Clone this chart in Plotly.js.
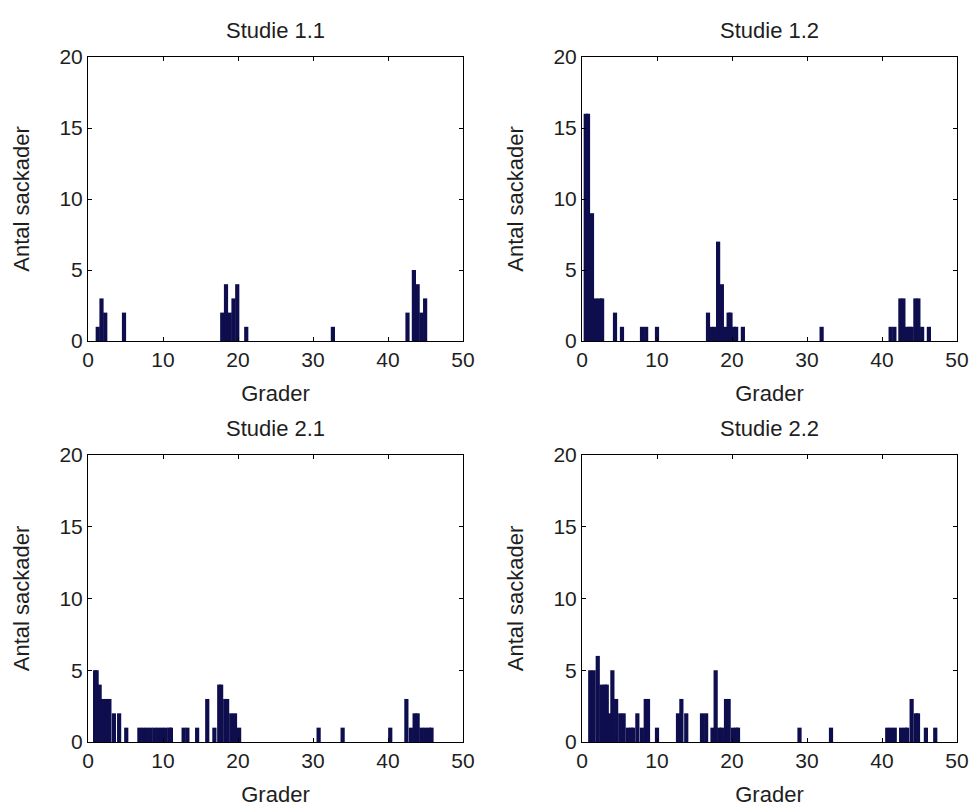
<!DOCTYPE html>
<html>
<head>
<meta charset="utf-8">
<script src="https://cdn.plot.ly/plotly-3.0.1.min.js"></script>
<style>
  html, body { margin: 0; padding: 0; background: #ffffff; }
  #chart { width: 976px; height: 807px; }
</style>
</head>
<body>
<div id="chart"></div>
<script>
// ---- Data (bin centre in degrees, number of saccades) ----
const titles = ["Studie 1.1", "Studie 1.2", "Studie 2.1", "Studie 2.2"];
const xAxisLabel = "Grader";
const yAxisLabel = "Antal sackader";
const xTicks = [0, 10, 20, 30, 40, 50];
const yTicks = [0, 5, 10, 15, 20];

// Studie 1.1
const deg11 = [1.3, 1.8, 2.3, 4.8, 17.9, 18.4, 18.9, 19.4, 19.9, 21.1, 32.65, 42.6, 43.45, 43.95, 44.45, 44.95];
const cnt11 = [1, 3, 2, 2, 2, 4, 2, 3, 4, 1, 1, 2, 5, 4, 2, 3];

// Studie 1.2
const deg12 = [0.5, 0.8, 1.33, 1.85, 2.35, 2.68, 4.4, 5.33, 8.0, 8.55, 10.0, 16.8, 17.25, 17.65, 18.15, 18.65, 19.1,
               19.55, 19.8, 20.25, 20.55, 21.45, 31.95, 41.15, 41.65, 42.45, 42.85, 43.35, 43.7, 43.95, 44.45, 44.85, 45.35, 46.25];
const cnt12 = [16, 16, 9, 3, 3, 3, 2, 1, 1, 1, 1, 2, 1, 1, 7, 4, 1,
               2, 2, 1, 1, 1, 1, 1, 1, 3, 3, 1, 1, 1, 3, 3, 1, 1];

// Studie 2.1
const deg21 = [0.95, 1.15, 1.55, 2.0, 2.45, 2.85, 3.45, 4.15, 5.1, 6.85, 7.35, 7.85, 8.35, 8.85, 9.35, 9.85, 10.35, 10.85, 11.05,
               12.75, 13.25, 14.55, 15.9, 16.85, 17.5, 17.75, 18.3, 18.55, 19.1, 19.6, 20.15, 30.75, 33.95, 40.3, 42.45, 43.05,
               43.55, 43.95, 44.45, 44.95, 45.45, 45.8];
const cnt21 = [5, 5, 4, 3, 3, 3, 2, 2, 1, 1, 1, 1, 1, 1, 1, 1, 1, 1, 1,
               1, 1, 1, 3, 1, 4, 4, 3, 3, 2, 2, 1, 1, 1, 1, 3, 1,
               2, 2, 1, 1, 1, 1];

// Studie 2.2
const deg22 = [1.1, 1.55, 2.1, 2.6, 3.05, 3.3, 3.7, 4.05, 4.55, 5.1, 5.55, 6.1, 6.55, 6.8, 7.38, 7.98, 8.5, 8.8, 10.0,
               12.8, 13.25, 13.9, 16.0, 16.55, 17.4, 17.82, 18.3, 18.65, 19.2, 19.55, 20.1, 20.55, 20.8, 29.0, 33.2,
               40.7, 41.2, 41.7, 42.55, 43.05, 43.35, 43.95, 44.5, 44.8, 45.85, 47.1];
const cnt22 = [5, 5, 6, 4, 4, 4, 2, 5, 3, 2, 2, 1, 1, 1, 2, 1, 3, 3, 1,
               2, 3, 2, 2, 2, 1, 5, 1, 1, 3, 3, 1, 1, 1, 1, 1,
               1, 1, 1, 1, 1, 1, 3, 2, 2, 1, 1];

// ---- Styling ----
const BAR_FILL = "#0e0e4e";
const BIN_WIDTH = 0.56;
const FONT = "Liberation Sans, Arial, sans-serif";
const TXT = "#1e1e1e";

const series = [[deg11, cnt11], [deg12, cnt12], [deg21, cnt21], [deg22, cnt22]];
const axSuffix = ["", "2", "3", "4"];

const traces = series.map((s, i) => ({
  type: "bar",
  x: s[0],
  y: s[1],
  width: BIN_WIDTH,
  xaxis: "x" + axSuffix[i],
  yaxis: "y" + axSuffix[i],
  marker: { color: BAR_FILL, line: { width: 0 } },
  hoverinfo: "x+y",
  showlegend: false
}));

const W = 976, H = 807;
const colDom = [[88 / W, 463 / W], [582 / W, 957 / W]];
const rowDom = [[1 - 341 / H, 1 - 57 / H], [1 - 742 / H, 1 - 455 / H]];

function xAxis(col, anchor) {
  return {
    domain: colDom[col],
    anchor: anchor,
    range: [0, 50],
    tickvals: xTicks,
    ticks: "inside",
    ticklen: 4,
    tickcolor: "#000",
    showline: true,
    linecolor: "#000",
    linewidth: 1,
    mirror: "ticks",
    showgrid: false,
    zeroline: false,
    tickfont: { family: FONT, size: 21, color: TXT },
    title: { text: xAxisLabel, font: { family: FONT, size: 22, color: TXT }, standoff: 15 },
    automargin: false,
    fixedrange: true
  };
}
function yAxis(row, anchor) {
  return {
    domain: rowDom[row],
    anchor: anchor,
    range: [0, 20],
    tickvals: yTicks,
    ticks: "inside",
    ticklen: 4,
    tickcolor: "#000",
    showline: true,
    linecolor: "#000",
    linewidth: 1,
    mirror: "ticks",
    showgrid: false,
    zeroline: false,
    tickfont: { family: FONT, size: 21, color: TXT },
    title: { text: yAxisLabel, font: { family: FONT, size: 22, color: TXT }, standoff: 23 },
    automargin: false,
    fixedrange: true
  };
}

const titleY = [1 - 30 / H, 1 - 428 / H];
const annotations = titles.map((t, i) => ({
  text: t,
  xref: "paper",
  yref: "paper",
  x: (colDom[i % 2][0] + colDom[i % 2][1]) / 2,
  y: titleY[Math.floor(i / 2)],
  xanchor: "center",
  yanchor: "middle",
  showarrow: false,
  font: { family: FONT, size: 22, color: TXT }
}));

const layout = {
  width: W,
  height: H,
  margin: { l: 0, r: 0, t: 0, b: 0 },
  paper_bgcolor: "#ffffff",
  plot_bgcolor: "#ffffff",
  barmode: "overlay",
  showlegend: false,
  xaxis: xAxis(0, "y"),
  yaxis: yAxis(0, "x"),
  xaxis2: xAxis(1, "y2"),
  yaxis2: yAxis(0, "x2"),
  xaxis3: xAxis(0, "y3"),
  yaxis3: yAxis(1, "x3"),
  xaxis4: xAxis(1, "y4"),
  yaxis4: yAxis(1, "x4"),
  annotations: annotations
};

Plotly.newPlot("chart", traces, layout, { displayModeBar: false, staticPlot: true });
</script>
</body>
</html>
